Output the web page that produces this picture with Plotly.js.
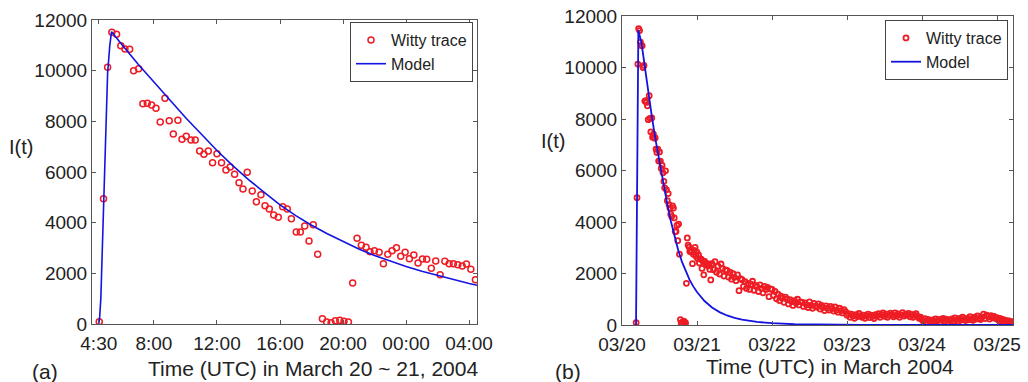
<!DOCTYPE html>
<html><head><meta charset="utf-8">
<script src="https://cdn.plot.ly/plotly-3.0.1.min.js"></script>
<style>html,body{margin:0;padding:0;background:#fff}#chart{width:1028px;height:382px}</style>
</head><body><div id="chart"></div>
<script>
// ---- Panel (a): Witty trace, hours UTC on March 20-21 (24 = 00:00 on the 21st)
var leftHours = [4.53,4.80,5.06,5.33,5.63,5.90,6.16,6.46,6.71,7.03,7.30,7.58,7.85,8.13,8.40,8.70,8.97,9.23,9.52,9.78,10.05,10.35,10.62,10.90,11.17,11.45,11.72,12.00,12.29,12.57,12.84,13.12,13.40,13.65,13.92,14.24,14.50,14.79,15.05,15.32,15.60,15.89,16.17,16.46,16.72,17.03,17.29,17.57,17.84,18.11,18.39,18.69,18.96,19.24,19.51,19.79,20.06,20.34,20.61,20.89,21.16,21.46,21.71,21.99,22.29,22.56,22.84,23.11,23.39,23.66,23.94,24.21,24.49,24.76,25.04,25.31,25.60,25.88,26.16,26.46,26.73,27.00,27.28,27.56,27.83,28.11,28.40];
var leftValues = [90,4946,10132,11513,11434,10985,10855,10842,10000,10079,8697,8710,8644,8513,7973,8907,8026,7499,8038,7289,7407,7262,7262,6828,6696,6828,6367,6723,6367,6078,6197,5909,5580,5328,5988,5249,4827,5104,4670,4539,4302,4210,4630,4539,4157,3631,3631,3868,3276,3920,2750,211,79,53,132,145,105,79,1618,3381,3105,3026,2855,2895,2829,2381,2750,2895,3013,2671,2829,2579,2724,2408,2566,2553,2198,2487,1947,2474,2381,2381,2342,2289,2368,2158,1750];
// Model curve of panel (a)
var leftModelHours = [4.50,4.56,4.63,4.72,4.81,4.95,5.06,5.20,5.31,6,7,8,9,10,11,12,13,14,15,16,17,18,19,20,21,22,23,24,25,26,27,28,28.5];
var leftModelValues = [0,300,1000,3000,4950,7600,9900,11000,11540,11000,10250,9550,8850,8150,7500,6850,6250,5700,5200,4700,4280,3900,3560,3250,2960,2700,2480,2270,2080,1910,1750,1600,1530];
var leftTickVals = [4.5,8,12,16,20,24,28];
var leftTickText = ['4:30','8:00','12:00','16:00','20:00','00:00','04:00'];

// ---- Panel (b): days since 03/20 00:00 UTC
// continuation of the trace after the first day (sampled every tailStep days)
var tailStart = 1.20, tailStep = 0.02;
var tailValues = [
2380,2150,2460,2050,2290,1980,2369,2200,1900,2136,
2120,1860,2050,1780,1990,1850,1720,1950,1333,1800,
1760,1500,1680,1420,1620,1380,1590,1700,1350,1540,
1480,1300,1560,1420,1250,1500,1380,1460,1100,1400,
1380,1150,1300,1020,1200,950,1120,1040,880,1080,
1000,820,980,900,760,950,850,1000,780,900,
880,720,860,780,680,900,760,650,840,740,
700,820,620,760,680,560,740,650,580,720,
640,540,700,580,500,650,560,470,600,520,
380,440,300,420,350,260,400,330,450,360,
300,380,260,350,420,290,380,330,250,400,
350,440,300,400,470,340,420,300,380,460,
400,320,470,360,430,300,390,480,350,420,
380,450,320,410,300,380,440,330,260,300,
200,140,250,110,220,160,90,200,130,240,
150,220,100,190,260,140,230,120,200,170,
240,160,280,200,130,260,190,300,220,170,
260,200,320,240,180,300,230,350,260,210,
300,420,250,380,320,230,360,280,330,250,
290,180,260,140,220,100,180,120,160,90,130];
var rightModelDays = [0.187,0.195,0.205,0.218,0.26,0.3,0.35,0.4,0.45,0.5,0.55,0.6,0.65,0.7,0.75,0.8,0.85,0.9,0.95,1.0,1.1,1.2,1.3,1.4,1.5,1.6,1.8,2.0,2.3,2.7,3.2,4.0,5.21];
var rightModelValues = [0,3000,8000,11450,10950,10100,9050,8050,7150,6300,5500,4750,4050,3450,2900,2450,2080,1760,1500,1280,930,680,500,370,280,210,120,70,30,10,3,0,0];
var rightTickVals = [0,1,2,3,4,5];
var rightTickText = ['03/20','03/21','03/22','03/23','03/24','03/25'];
var yTickVals = [0,2000,4000,6000,8000,10000,12000];
var yTickText = ['0','2000','4000','6000','8000','10000','12000'];

// build panel (b) trace from panel (a) samples plus tail
var rightDays = leftHours.map(function(h){return h/24;});
var rightValues = leftValues.slice();
for (var i = 0; i < tailValues.length; i++) {
  rightDays.push(tailStart + i*tailStep);
  rightValues.push(tailValues[i]);
}

var FONT = 'Liberation Sans, Arial, Helvetica, sans-serif';
var RED = 'rgb(238,28,36)';
var BLUE = 'rgb(20,20,225)';

var traces = [
  {x:leftHours, y:leftValues, type:'scatter', mode:'markers', name:'Witty trace',
   marker:{symbol:'circle-open', size:6, color:RED, line:{width:1.5, color:RED}},
   xaxis:'x', yaxis:'y', legend:'legend'},
  {x:leftModelHours, y:leftModelValues, type:'scatter', mode:'lines', name:'Model',
   line:{color:BLUE, width:1.6}, xaxis:'x', yaxis:'y', legend:'legend'},
  {x:rightDays, y:rightValues, type:'scatter', mode:'markers', name:'Witty trace',
   marker:{symbol:'circle-open', size:5, color:RED, line:{width:1.8, color:RED}},
   xaxis:'x2', yaxis:'y2', legend:'legend2'},
  {x:rightModelDays, y:rightModelValues, type:'scatter', mode:'lines', name:'Model',
   line:{color:BLUE, width:1.8}, xaxis:'x2', yaxis:'y2', legend:'legend2'}
];

function axis(extra){
  var a = {showline:true, linecolor:'#555', linewidth:1, mirror:'ticks', ticks:'inside',
    ticklen:4, tickcolor:'#555', tickwidth:1, showgrid:false, zeroline:false,
    tickfont:{family:FONT, size:19, color:'#222'}, fixedrange:true};
  for (var k in extra) a[k] = extra[k];
  return a;
}

var layout = {
  width:1028, height:382, margin:{l:0,r:0,t:0,b:0},
  paper_bgcolor:'#fff', plot_bgcolor:'#fff',
  font:{family:FONT, color:'#222'},
  xaxis: axis({domain:[92/1028, 477/1028], range:[4.07,28.5], tickmode:'array',
    tickvals:leftTickVals, ticktext:leftTickText, anchor:'y', ticklabelstandoff:2}),
  yaxis: axis({domain:[1-324/382, 1-20/382], range:[0,12000], tickmode:'array',
    tickvals:yTickVals, ticktext:yTickText, anchor:'x'}),
  xaxis2: axis({domain:[622/1028, 1013/1028], range:[0,5.213], tickmode:'array',
    tickvals:rightTickVals, ticktext:rightTickText, anchor:'y2', ticklabelstandoff:2}),
  yaxis2: axis({domain:[1-325/382, 1-16/382], range:[0,12000], tickmode:'array',
    tickvals:yTickVals, ticktext:yTickText, anchor:'x2'}),
  legend:{x:473/1028, y:1-22/382, xanchor:'right', yanchor:'top', bgcolor:'#fff',
    bordercolor:'#444', borderwidth:1, font:{family:FONT, size:16, color:'#222'},
    tracegroupgap:0, itemwidth:30},
  legend2:{x:1008/1028, y:1-20/382, xanchor:'right', yanchor:'top', bgcolor:'#fff',
    bordercolor:'#444', borderwidth:1, font:{family:FONT, size:16, color:'#222'},
    tracegroupgap:0, itemwidth:30},
  showlegend:true,
  annotations:[
    {text:'I(t)', xref:'paper', yref:'paper', x:21/1028, y:1-147/382, showarrow:false,
     font:{family:FONT, size:20, color:'#222'}, xanchor:'center', yanchor:'middle'},
    {text:'I(t)', xref:'paper', yref:'paper', x:553/1028, y:1-141/382, showarrow:false,
     font:{family:FONT, size:20, color:'#222'}, xanchor:'center', yanchor:'middle'},
    {text:'Time (UTC) in March 20 ~ 21, 2004', xref:'paper', yref:'paper', x:313/1028, y:1-368/382,
     showarrow:false, font:{family:FONT, size:21, color:'#222'}, xanchor:'center', yanchor:'middle'},
    {text:'Time (UTC) in March 2004', xref:'paper', yref:'paper', x:830/1028, y:1-366/382,
     showarrow:false, font:{family:FONT, size:21, color:'#222'}, xanchor:'center', yanchor:'middle'},
    {text:'(a)', xref:'paper', yref:'paper', x:45/1028, y:1-371/382,
     showarrow:false, font:{family:FONT, size:21, color:'#222'}, xanchor:'center', yanchor:'middle'},
    {text:'(b)', xref:'paper', yref:'paper', x:568/1028, y:1-371/382,
     showarrow:false, font:{family:FONT, size:21, color:'#222'}, xanchor:'center', yanchor:'middle'}
  ]
};

Plotly.newPlot('chart', traces, layout, {displayModeBar:false, staticPlot:true});
</script></body></html>
